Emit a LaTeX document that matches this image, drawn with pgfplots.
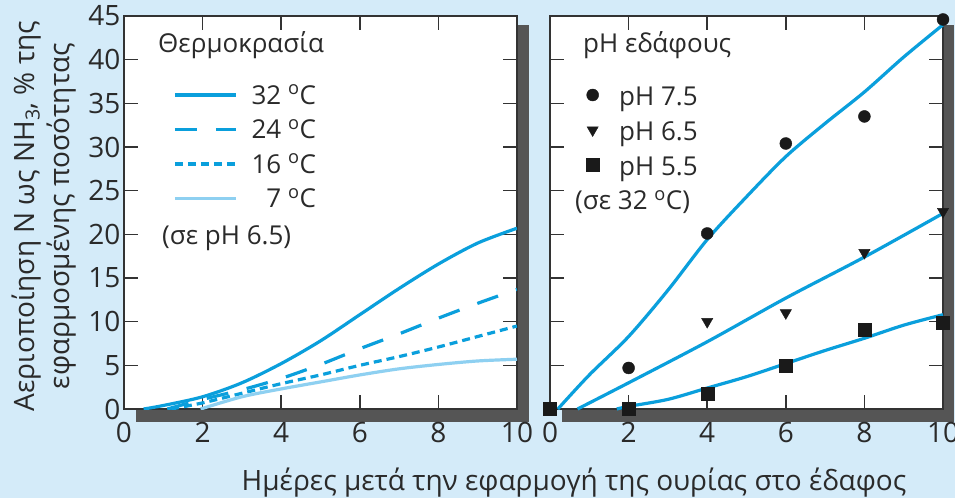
\documentclass[border=0pt]{standalone}
\usepackage{pgfplots}
\pgfplotsset{compat=1.18}
\usepackage{fontspec}
\setmainfont{Open Sans}
\definecolor{bgblue}{HTML}{D4EBF9}
\definecolor{lblue}{HTML}{0A9FDC}
\definecolor{llight}{HTML}{8ED0F1}
\definecolor{shadowc}{HTML}{555555}
\definecolor{axisc}{HTML}{333333}
\definecolor{textc}{HTML}{2A2A2A}
\definecolor{markc}{HTML}{1A1A1A}
\newcommand\dg{\textsuperscript{o}}
\newcommand\bigf{\fontsize{28}{30}\selectfont}
\newcommand\midf{\fontsize{26}{30}\selectfont}

\pgfplotsset{
 panel/.style={scale only axis, width=393pt, height=393pt, anchor=south west,
  xmin=0, xmax=10, ymin=0, ymax=45,
  xtick={0,2,...,10}, ytick={0,5,...,45},
  axis line style={axisc, line width=1.6pt},
  major tick style={axisc, line width=1.6pt},
  major tick length=14pt, tick align=inside,
  xtick pos=both, ytick pos=both,
  xticklabel pos=bottom, yticklabel pos=left,
  ticklabel style={font=\bigf, text=textc},
  /pgf/number format/assume math mode=true,
  axis background/.style={fill=white},
  xticklabel shift=10pt,
 }
}

\begin{document}
\begin{tikzpicture}
\useasboundingbox (0pt,0pt) rectangle (955pt,498pt);
\fill[bgblue] (0pt,0pt) rectangle (955pt,498pt);
% shadows
\fill[shadowc] (136pt,76pt) rectangle (529pt,473pt);
\fill[shadowc] (562pt,76pt) rectangle (954pt,473pt);

\begin{axis}[panel, at={(124pt,89pt)},
  legend style={draw=none, fill=none, inner sep=0pt, outer sep=0pt,
    at={(axis description cs:0.4885,0.832)}, anchor=north east,
    row sep=8.5pt, column sep=14pt, font=\midf, text=textc,
    nodes={inner sep=0pt, text height=22pt, text depth=4pt}},
  legend cell align=right,
  legend image code/.code={\draw[#1] (0pt,0pt) -- (61pt,0pt);},
]
\addplot[lblue, line width=3.2pt, smooth] coordinates {
 (0.5,0) (1,0.4) (2,1.4) (3,3.0) (4,5.2) (5,7.8) (6,10.8) (7,13.8) (8,16.6) (9,19.0) (10,20.7)};
\addlegendentry{32 \dg C}
\addplot[lblue, line width=3.2pt, smooth, dash pattern=on 22pt off 19pt] coordinates {
 (1.1,0) (2,1.1) (3,2.2) (4,3.5) (5,5.1) (6,6.9) (7,8.6) (8,10.4) (9,12.1) (10,13.7)};
\addlegendentry{24 \dg C}
\addplot[lblue, line width=3.2pt, smooth, dash pattern=on 8pt off 5pt] coordinates {
 (1.2,0) (2,0.7) (3,1.8) (4,2.9) (5,3.9) (6,5.0) (7,6.0) (8,7.1) (9,8.3) (10,9.5)};
\addlegendentry{16 \dg C}
\addplot[llight, line width=3.2pt, smooth] coordinates {
 (1.95,0) (3,1.4) (4,2.3) (5,3.1) (6,3.9) (7,4.6) (8,5.1) (9,5.5) (10,5.7)};
\addlegendentry{7 \dg C}
\end{axis}

\begin{axis}[panel, at={(550pt,89pt)}, yticklabels={}, clip=false,
  legend style={draw=none, fill=none, inner sep=0pt, outer sep=0pt,
    at={(axis description cs:0.092,0.8295)}, anchor=north west,
    row sep=11pt, column sep=20pt, font=\midf, text=textc,
    nodes={inner sep=0pt, text height=22pt, text depth=2pt}},
  legend cell align=left,
  legend image code/.code={\draw[#1] plot coordinates {(0pt,0pt)};},
]
\addplot[lblue, line width=3.2pt, smooth, forget plot] coordinates {
 (0.2,0) (1,3.9) (2,8.3) (3,13.6) (4,19.4) (5,24.3) (6,28.9) (7,32.7) (8,36.3) (9,40.3) (10,44.0)};
\addplot[lblue, line width=3.2pt, smooth, forget plot] coordinates {
 (0.7,0) (2,3.0) (4,7.7) (6,12.7) (8,17.4) (10,22.4)};
\addplot[lblue, line width=3.2pt, smooth, forget plot] coordinates {
 (1.7,0) (2,0.3) (3,1.1) (4,2.4) (5,3.7) (6,5.2) (7,6.7) (8,8.1) (9,9.6) (10,10.8)};
\addplot[only marks, mark=*, mark size=6pt, markc] coordinates {
 (2,4.7) (4,20.1) (6,30.4) (8,33.5) (10,44.6)};
\addlegendentry{pH 7.5}
\addplot[only marks, mark=triangle*, mark options={rotate=180}, mark size=6.5pt, markc] coordinates {
 (4,10.0) (6,11.0) (8,17.9) (10,22.6)};
\addlegendentry{pH 6.5}
\addplot[only marks, mark=square*, mark size=6.5pt, markc] coordinates {
 (0,0) (2,0) (4,1.8) (6,5.0) (8,9.1) (10,9.9)};
\addlegendentry{pH 5.5}
\end{axis}

% titles inside panels
\node[anchor=base west, inner sep=0pt, font=\midf, text=textc] at (158pt,445pt) {Θερμοκρασία};
\node[anchor=base west, inner sep=0pt, font=\midf, text=textc] at (162pt,253pt) {(σε pH 6.5)};
\node[anchor=base west, inner sep=0pt, font=\midf, text=textc] at (583pt,445pt) {pH εδάφους};
\node[anchor=base west, inner sep=0pt, font=\midf, text=textc] at (575pt,288pt) {(σε 32 \dg C)};

% axis labels
\node[rotate=90, anchor=base, inner sep=0pt, font=\bigf, text=textc] at (34pt,282pt) {Αεριοποίηση N ως NH\textsubscript{3}, \% της};
\node[rotate=90, anchor=base, inner sep=0pt, font=\bigf, text=textc] at (69pt,282pt) {εφαρμοσμένης ποσότητας};
\node[anchor=base, inner sep=0pt, font=\bigf, text=textc] at (574pt,8pt) {Ημέρες μετά την εφαρμογή της ουρίας στο έδαφος};
\end{tikzpicture}
\end{document}
